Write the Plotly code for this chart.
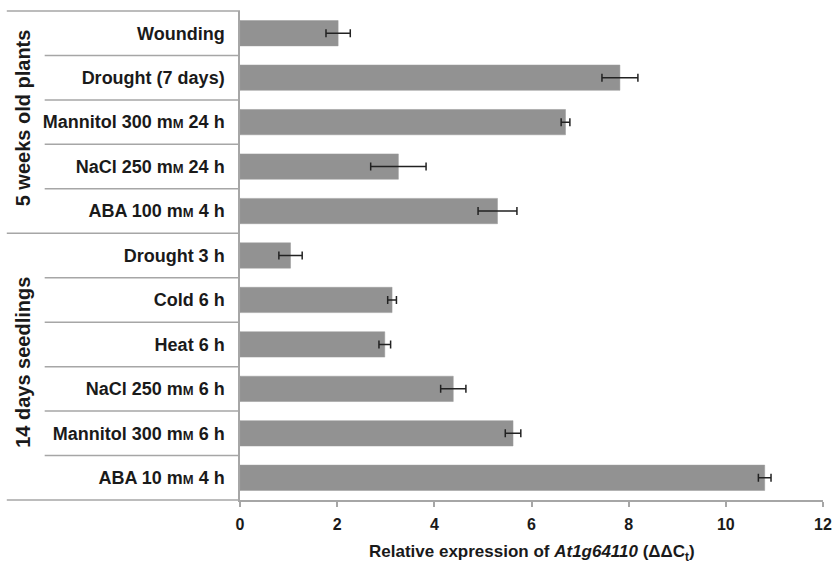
import plotly.graph_objects as go

# Treatments, top to bottom, with their experimental group
mm = "m<span style='font-size:13px'>M</span>"
treatments = [
    "Wounding",
    "Drought (7 days)",
    f"Mannitol 300 {mm} 24 h",
    f"NaCl 250 {mm} 24 h",
    f"ABA 100 {mm} 4 h",
    "Drought 3 h",
    "Cold 6 h",
    "Heat 6 h",
    f"NaCl 250 {mm} 6 h",
    f"Mannitol 300 {mm} 6 h",
    f"ABA 10 {mm} 4 h",
]
groups = ["5 weeks old plants"] * 5 + ["14 days seedlings"] * 6

# Relative expression (ΔΔCt) and standard error
expression = [2.02, 7.82, 6.70, 3.26, 5.30, 1.04, 3.13, 2.98, 4.39, 5.62, 10.80]
errors = [0.25, 0.37, 0.09, 0.57, 0.40, 0.24, 0.09, 0.12, 0.26, 0.16, 0.13]

x_ticks = [0, 2, 4, 6, 8, 10, 12]
x_title = "<b>Relative expression of <i>At1g64110</i> (ΔΔC<sub>t</sub>)</b>"

FONT = "Liberation Sans, Arial, sans-serif"
LINE = "#a6a6a6"
TEXT = "#1a1a1a"

fig = go.Figure(
    go.Bar(
        x=expression,
        y=list(range(len(treatments))),
        orientation="h",
        width=0.57,
        marker=dict(color="#929292", line=dict(color="#9a9a9a", width=0.5)),
        error_x=dict(type="data", array=errors, color="#222222", thickness=1.5, width=4),
        hoverinfo="x",
    )
)

n = len(treatments)
left_edge = -0.40    # outer left border of the label table (paper units)
inner_edge = -0.335  # where treatment separators begin
group_x = -0.372     # centre of the rotated group labels

def ypaper(boundary):
    # boundary in category units (-0.5 .. n-0.5), reversed axis
    return 1 - (boundary + 0.5) / n

shapes = []
# top border and group borders span the whole label table
group_bounds = [-0.5]
for i in range(1, n):
    if groups[i] != groups[i - 1]:
        group_bounds.append(i - 0.5)
group_bounds.append(n - 0.5)
for b in group_bounds:
    shapes.append(dict(type="line", xref="paper", yref="paper",
                       x0=left_edge, x1=0, y0=ypaper(b), y1=ypaper(b),
                       line=dict(color=LINE, width=1.5)))
# separators between treatments within a group
for i in range(1, n):
    if groups[i] == groups[i - 1]:
        b = i - 0.5
        shapes.append(dict(type="line", xref="paper", yref="paper",
                           x0=inner_edge, x1=0, y0=ypaper(b), y1=ypaper(b),
                           line=dict(color=LINE, width=1.5)))

# rotated group labels
annotations = []
for gi in range(1, len(group_bounds)):
    lo, hi = group_bounds[gi - 1], group_bounds[gi]
    name = groups[int(lo + 0.5)]
    annotations.append(dict(
        text=f"<b>{name}</b>", xref="paper", yref="paper",
        x=group_x, y=(ypaper(lo) + ypaper(hi)) / 2 + 0.008,
        textangle=-90, showarrow=False, xanchor="center", yanchor="middle",
        font=dict(family=FONT, size=20, color=TEXT),
    ))

# x-axis title placed below the tick labels
annotations.append(dict(
    text=x_title, xref="paper", yref="paper", x=0.5, y=-0.108,
    showarrow=False, xanchor="center", yanchor="middle",
    font=dict(family=FONT, size=17, color=TEXT),
))

fig.update_layout(
    width=833, height=564,
    margin=dict(l=240, r=10, t=11, b=64),
    paper_bgcolor="white", plot_bgcolor="white",
    showlegend=False,
    shapes=shapes,
    annotations=annotations,
    font=dict(family=FONT, color=TEXT),
    xaxis=dict(
        range=[0, 12], tickvals=x_ticks,
        ticktext=[f"<b>{t}</b>" for t in x_ticks],
        ticks="outside", ticklen=5, tickcolor=LINE, tickwidth=1.5,
        ticklabelstandoff=4,
        showline=True, linecolor=LINE, linewidth=1.5,
        showgrid=False, zeroline=False, automargin=False,
        tickfont=dict(family=FONT, size=16, color=TEXT),
    ),
    yaxis=dict(
        range=[n - 0.5, -0.5],
        tickvals=list(range(n)),
        ticktext=[f"<b>{t}</b>" for t in treatments],
        ticks="", ticklabelstandoff=10,
        showline=True, linecolor=LINE, linewidth=1.5,
        showgrid=False, zeroline=False, automargin=False,
        tickfont=dict(family=FONT, size=18, color=TEXT),
    ),
)

fig.write_html("out.html")
